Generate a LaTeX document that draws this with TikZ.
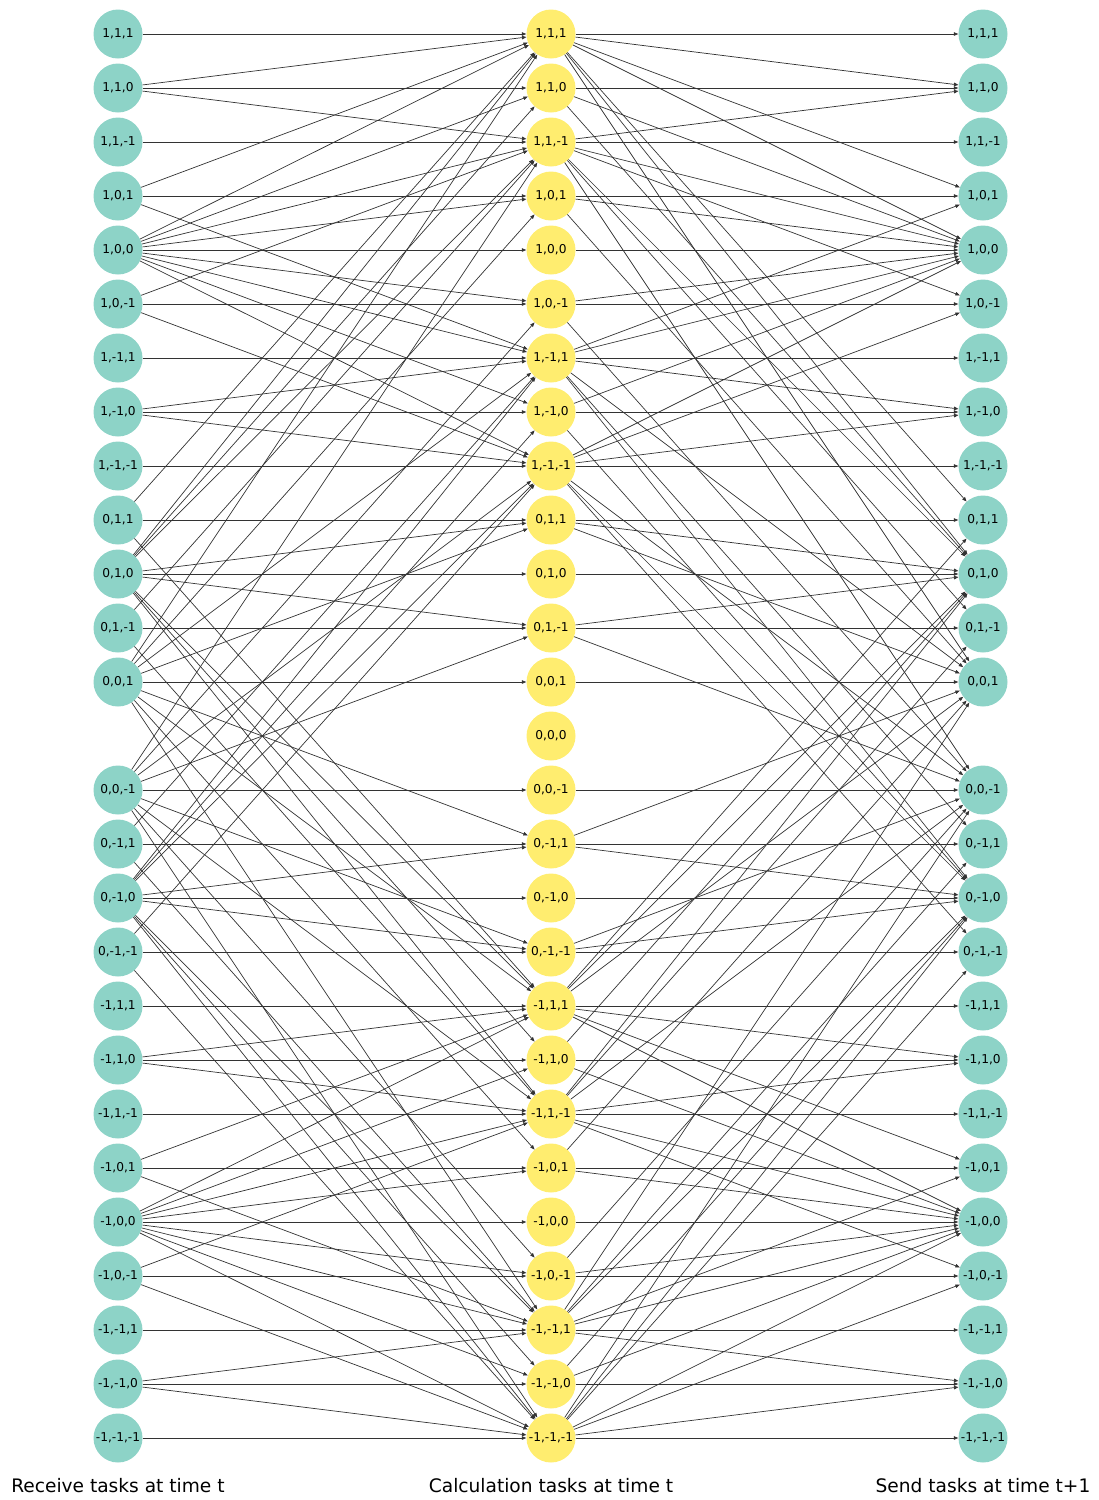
\documentclass[tikz,border=0pt]{standalone}
\usepackage{fontspec}
\setmainfont{DejaVu Sans}
\usetikzlibrary{arrows.meta}
\definecolor{tgreen}{HTML}{8DD3C7}
\definecolor{tyellow}{HTML}{FFED6F}
\begin{document}
\begin{tikzpicture}[x=1pt,y=-1pt,
  nd/.style={circle,minimum size=49pt,inner sep=0pt,font=\fontsize{12.2}{14}\selectfont},
  lnode/.style={nd,fill=tgreen},
  mnode/.style={nd,fill=tyellow},
  rnode/.style={nd,fill=tgreen},
  edge/.style={draw=black!80,line width=0.7pt,-{Triangle[length=4.5pt,width=3.5pt]}},
  caption/.style={font=\fontsize{18.6}{22}\selectfont}]
\useasboundingbox (0,0) rectangle (1099,1500);
\foreach \a/\an in {1/p,0/z,-1/m}{
 \foreach \b/\bn in {1/p,0/z,-1/m}{
  \foreach \c/\cn in {1/p,0/z,-1/m}{
   \pgfmathsetmacro{\yy}{34+54*((1-\a)*9+(1-\b)*3+(1-\c))}
   \node[mnode] (M\an\bn\cn) at (551,\yy) {\a,\b,\c};
   \pgfmathtruncatemacro{\nz}{abs(\a)+abs(\b)+abs(\c)}
   \ifnum\nz>0
     \node[lnode] (L\an\bn\cn) at (118,\yy) {\a,\b,\c};
     \node[rnode] (R\an\bn\cn) at (983,\yy) {\a,\b,\c};
   \fi
}}}
\foreach \a/\an in {1/p,0/z,-1/m}{
 \foreach \b/\bn in {1/p,0/z,-1/m}{
  \foreach \c/\cn in {1/p,0/z,-1/m}{
   \pgfmathtruncatemacro{\nz}{abs(\a)+abs(\b)+abs(\c)}
   \ifnum\nz>0
   \foreach \x/\xn in {1/p,0/z,-1/m}{
    \foreach \y/\yn in {1/p,0/z,-1/m}{
     \foreach \z/\zn in {1/p,0/z,-1/m}{
      \pgfmathtruncatemacro{\ok}{((\a==0)||(\a==\x)) && ((\b==0)||(\b==\y)) && ((\c==0)||(\c==\z))}
      \ifnum\ok=1
       \draw[edge] (L\an\bn\cn) -- (M\xn\yn\zn);
       \draw[edge] (M\xn\yn\zn) -- (R\an\bn\cn);
      \fi
   }}}
   \fi
}}}
\node[caption] (capL) at (118,1486) {Receive tasks at time t};
\node[caption] (capM) at (551,1486) {Calculation tasks at time t};
\node[caption] (capR) at (983,1486) {Send tasks at time t+1};
\end{tikzpicture}
\end{document}
